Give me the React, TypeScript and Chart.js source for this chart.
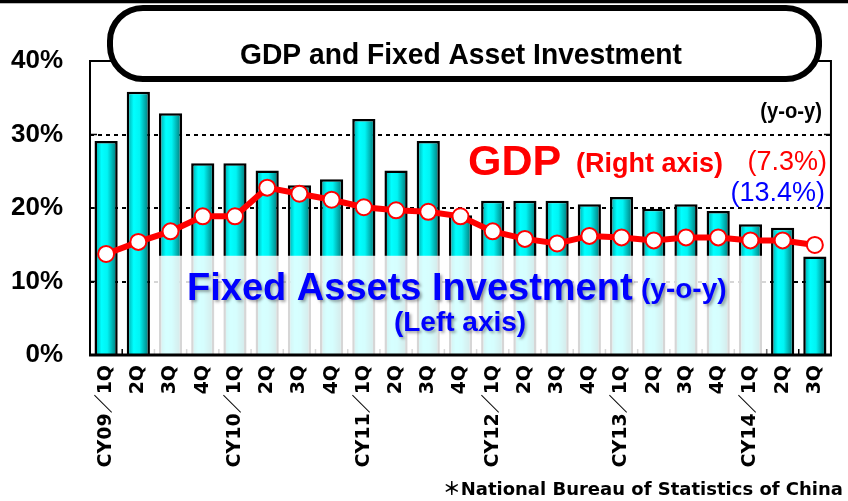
import React, { useEffect, useRef } from "react";
import { Chart, registerables } from "chart.js";

Chart.register(...registerables);

const categories = [
  "CY09／1Q", "2Q", "3Q", "4Q",
  "CY10／1Q", "2Q", "3Q", "4Q",
  "CY11／1Q", "2Q", "3Q", "4Q",
  "CY12／1Q", "2Q", "3Q", "4Q",
  "CY13／1Q", "2Q", "3Q", "4Q",
  "CY14／1Q", "2Q", "3Q",
];

// Fixed assets investment, y-o-y % (left axis)
const fixedAssetInvestment = [
  29.1, 35.8, 32.9, 26.1,
  26.1, 25.1, 23.1, 23.9,
  32.1, 25.1, 29.1, 19.0,
  21.0, 21.0, 21.0, 20.5,
  21.5, 19.9, 20.5, 19.6,
  17.8, 17.3, 13.4,
];

// GDP, y-o-y % (right axis)
const gdp = [
  6.7, 7.5, 8.2, 9.2,
  9.2, 11.1, 10.7, 10.3,
  9.8, 9.6, 9.5, 9.2,
  8.2, 7.7, 7.4, 7.9,
  7.8, 7.6, 7.8, 7.8,
  7.6, 7.6, 7.3,
];

const leftTicks = [0, 10, 20, 30, 40];
const rightRange = [0, 19.5];

const BAR_PCT = 0.72;
const SANS = '"Liberation Sans", Arial, sans-serif';
const WIDE = '"DejaVu Sans", "Noto Sans CJK JP", sans-serif';

function barGradient(ctx: any) {
  const chart = ctx.chart;
  const xs = chart.scales && chart.scales.x;
  if (ctx.type !== "data" || !xs || !chart.chartArea) return "#00ffff";
  const cx = xs.getPixelForValue(ctx.dataIndex);
  const w = (xs.width / categories.length) * BAR_PCT;
  const g = chart.ctx.createLinearGradient(cx - w / 2, 0, cx + w / 2, 0);
  g.addColorStop(0, "#009a9a");
  g.addColorStop(0.3, "#00ffff");
  g.addColorStop(0.55, "#00f4f4");
  g.addColorStop(1, "#006c6c");
  return g;
}

function condensedText(ctx: any, text: string, x: number, y: number, sx: number) {
  ctx.save();
  ctx.translate(x, y);
  ctx.scale(sx, 1);
  ctx.fillText(text, 0, 0);
  ctx.restore();
}

const decorPlugin = {
  id: "decor",
  afterDatasetDraw(chart: any, args: any) {
    if (args.index !== 0) return;
    const { ctx, chartArea } = chart;
    const xs = chart.scales.x;
    const ys = chart.scales.y;
    const step = xs.width / categories.length;
    ctx.save();
    ctx.strokeStyle = "#000";
    ctx.lineWidth = 1.5;
    for (let i = 1; i < categories.length; i++) {
      const x = chartArea.left + step * i;
      ctx.beginPath();
      ctx.moveTo(x, chartArea.bottom);
      ctx.lineTo(x, chartArea.bottom - 6);
      ctx.stroke();
    }
    for (const v of leftTicks) {
      if (v === 0 || v === 40) continue;
      const y = ys.getPixelForValue(v);
      ctx.beginPath();
      ctx.moveTo(chartArea.left, y);
      ctx.lineTo(chartArea.left + 7, y);
      ctx.moveTo(chartArea.right, y);
      ctx.lineTo(chartArea.right - 7, y);
      ctx.stroke();
    }
    const x0 = chartArea.left + step * 2 - 2;
    const x1 = chartArea.left + step * 21;
    const y0 = ys.getPixelForValue(13.5);
    ctx.fillStyle = "rgba(255,255,255,0.84)";
    ctx.fillRect(x0, y0, x1 - x0, chartArea.bottom - y0);
    ctx.restore();
  },
  afterDraw(chart: any) {
    const { ctx, chartArea } = chart;
    ctx.save();
    ctx.strokeStyle = "#000";
    ctx.lineWidth = 2;
    ctx.strokeRect(chartArea.left, chartArea.top, chartArea.right - chartArea.left, chartArea.bottom - chartArea.top);
    ctx.lineWidth = 3;
    ctx.beginPath();
    ctx.moveTo(chartArea.left - 1, chartArea.bottom);
    ctx.lineTo(chartArea.right + 1, chartArea.bottom);
    ctx.stroke();

    ctx.fillStyle = "#000";
    ctx.fillRect(0, 0, chart.width, 3);
    ctx.fillStyle = "#bbb";
    ctx.fillRect(0, 3, chart.width, 1);

    const px = 110, py = 8, pw = 709, ph = 71, r = 33;
    ctx.beginPath();
    ctx.moveTo(px + r, py);
    ctx.lineTo(px + pw - r, py);
    ctx.arcTo(px + pw, py, px + pw, py + r, r);
    ctx.lineTo(px + pw, py + ph - r);
    ctx.arcTo(px + pw, py + ph, px + pw - r, py + ph, r);
    ctx.lineTo(px + r, py + ph);
    ctx.arcTo(px, py + ph, px, py + ph - r, r);
    ctx.lineTo(px, py + r);
    ctx.arcTo(px, py, px + r, py, r);
    ctx.closePath();
    ctx.fillStyle = "#fff";
    ctx.fill();
    ctx.lineWidth = 6;
    ctx.strokeStyle = "#000";
    ctx.stroke();

    ctx.textBaseline = "alphabetic";
    ctx.fillStyle = "#000";
    ctx.textAlign = "center";
    ctx.font = `bold 30px ${SANS}`;
    condensedText(ctx, "GDP and Fixed Asset Investment", 461, 64, 0.94);

    ctx.textAlign = "right";
    ctx.font = `bold 22px ${SANS}`;
    condensedText(ctx, "(y-o-y)", 822, 118, 0.92);

    ctx.fillStyle = "#ff0000";
    ctx.textAlign = "left";
    ctx.font = `bold 43px ${SANS}`;
    ctx.fillText("GDP", 468, 175);
    ctx.font = `bold 27px ${SANS}`;
    ctx.fillText("(Right axis)", 576, 172);
    ctx.textAlign = "right";
    ctx.font = `27px ${SANS}`;
    ctx.fillText("(7.3%)", 827, 170);
    ctx.fillStyle = "#0000ff";
    ctx.fillText("(13.4%)", 825, 201);

    ctx.save();
    ctx.shadowColor = "rgba(0,0,0,0.35)";
    ctx.shadowOffsetX = 2;
    ctx.shadowOffsetY = 2;
    ctx.shadowBlur = 3;
    ctx.fillStyle = "#0000ff";
    ctx.textAlign = "left";
    ctx.font = `bold 38px ${SANS}`;
    ctx.fillText("Fixed Assets Investment", 187, 300);
    ctx.font = `bold 28px ${SANS}`;
    ctx.fillText("(y-o-y)", 641, 298);
    ctx.textAlign = "center";
    ctx.fillText("(Left axis)", 460, 331);
    ctx.restore();

    ctx.fillStyle = "#000";
    ctx.textAlign = "right";
    ctx.font = `bold 18px ${WIDE}`;
    ctx.fillText("＊National Bureau of Statistics of China", 843, 495);
    ctx.restore();
  },
};

export default function App() {
  const ref = useRef<HTMLCanvasElement | null>(null);

  useEffect(() => {
    document.body.style.margin = "0";
    const canvas = ref.current;
    if (!canvas) return;
    const chart = new Chart(canvas, {
      type: "bar",
      data: {
        labels: categories,
        datasets: [
          {
            type: "bar",
            label: "Fixed Assets Investment",
            data: fixedAssetInvestment,
            yAxisID: "y",
            order: 1,
            backgroundColor: barGradient,
            borderColor: "#000",
            borderWidth: 2.5,
            borderSkipped: "bottom",
            categoryPercentage: 1,
            barPercentage: BAR_PCT,
          },
          {
            type: "line",
            label: "GDP",
            data: gdp,
            yAxisID: "y1",
            order: 0,
            borderColor: "#ff0000",
            borderWidth: 6,
            pointRadius: 8,
            pointBorderWidth: 2,
            pointBackgroundColor: "#ffffff",
            pointBorderColor: "#ff0000",
            tension: 0,
          },
        ],
      },
      options: {
        responsive: false,
        animation: false,
        devicePixelRatio: 1,
        layout: { padding: { top: 61, left: 0, right: 0, bottom: 0 } },
        plugins: { legend: { display: false }, tooltip: { enabled: false } },
        scales: {
          x: {
            type: "category",
            offset: true,
            grid: { display: false, drawTicks: false },
            border: { display: false },
            ticks: {
              autoSkip: false,
              maxRotation: 90,
              minRotation: 90,
              padding: 10,
              color: "#000",
              font: { family: WIDE, weight: "bold", size: 19 },
            },
            afterFit: (s: any) => { s.height = 146; },
          },
          y: {
            position: "left",
            min: 0,
            max: 40,
            afterBuildTicks: (s: any) => { s.ticks = leftTicks.map((v) => ({ value: v })); },
            ticks: {
              padding: 27,
              color: "#000",
              font: { family: SANS, weight: "bold", size: 26 },
              callback: (v: any) => `${v}%`,
            },
            grid: {
              drawTicks: false,
              lineWidth: 2,
              color: (c: any) => (c.tick && (c.tick.value === 0 || c.tick.value === 40) ? "rgba(0,0,0,0)" : "#000"),
            },
            border: { display: false, dash: [4, 4] },
            afterFit: (s: any) => { s.width = 90; },
          },
          y1: {
            position: "right",
            min: rightRange[0],
            max: rightRange[1],
            ticks: { display: false },
            grid: { display: false, drawTicks: false },
            border: { display: false },
            afterFit: (s: any) => { s.width = 16; },
          },
        },
      },
      plugins: [decorPlugin],
    });
    return () => chart.destroy();
  }, []);

  return (
    <div style={{ width: 848, height: 501, background: "#fff" }}>
      <canvas ref={ref} width={848} height={501} style={{ display: "block" }} />
    </div>
  );
}
